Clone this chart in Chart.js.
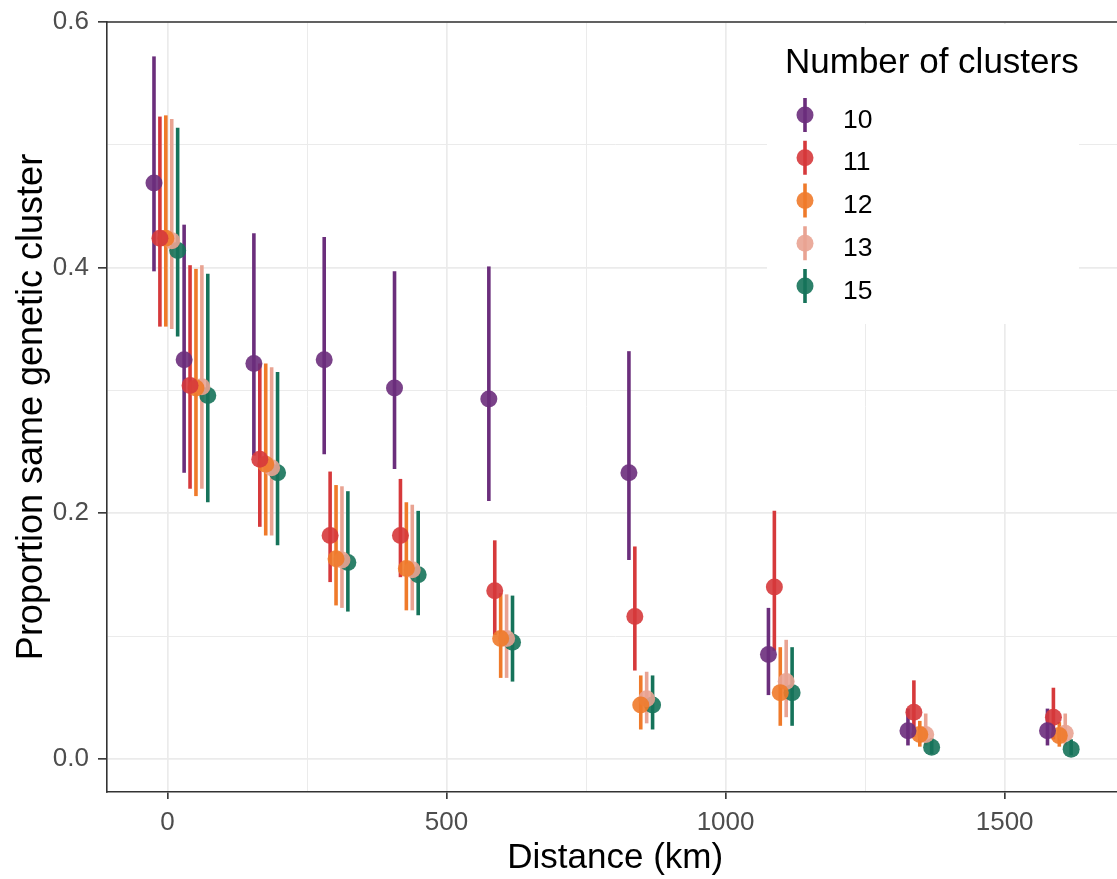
<!DOCTYPE html>
<html>
<head>
<meta charset="utf-8">
<script src="https://cdn.jsdelivr.net/npm/chart.js@4.4.1/dist/chart.umd.min.js"></script>
<style>
  html, body { margin:0; padding:0; background:#fff; overflow:hidden; }
  canvas { display:block; }
</style>
</head>
<body>
<canvas id="chart" width="1132" height="879"></canvas>
<script>
// ── data ─────────────────────────────────────────────────────────────────
const DISTANCE = [-3, 51, 176, 302, 428, 597, 848, 1098, 1348, 1598];   // km, bin centres
const CLUSTERS = ['10', '11', '12', '13', '15'];

const MEAN_10 = [0.469, 0.325, 0.322, 0.325, 0.302, 0.293, 0.233, 0.085, 0.023, 0.023];
const LO_10   = [0.397, 0.233, 0.247, 0.248, 0.236, 0.210, 0.162, 0.052, 0.011, 0.011];
const HI_10   = [0.572, 0.435, 0.428, 0.425, 0.397, 0.401, 0.332, 0.123, 0.041, 0.041];

const MEAN_11 = [0.424, 0.304, 0.244, 0.182, 0.182, 0.137, 0.116, 0.140, 0.038, 0.034];
const LO_11   = [0.352, 0.220, 0.189, 0.144, 0.148, 0.101, 0.072, 0.088, 0.018, 0.016];
const HI_11   = [0.523, 0.402, 0.322, 0.234, 0.228, 0.178, 0.173, 0.202, 0.064, 0.058];

const MEAN_12 = [0.424, 0.302, 0.240, 0.163, 0.155, 0.098, 0.044, 0.054, 0.020, 0.019];
const LO_12   = [0.352, 0.214, 0.182, 0.125, 0.121, 0.066, 0.024, 0.027, 0.010, 0.010];
const HI_12   = [0.524, 0.399, 0.322, 0.223, 0.209, 0.135, 0.068, 0.091, 0.031, 0.030];

const MEAN_13 = [0.422, 0.303, 0.237, 0.162, 0.154, 0.098, 0.049, 0.063, 0.020, 0.021];
const LO_13   = [0.350, 0.220, 0.182, 0.123, 0.121, 0.066, 0.029, 0.034, 0.011, 0.011];
const HI_13   = [0.521, 0.402, 0.319, 0.222, 0.207, 0.134, 0.071, 0.097, 0.037, 0.037];

const MEAN_15 = [0.414, 0.296, 0.233, 0.160, 0.150, 0.095, 0.044, 0.054, 0.0095, 0.008];
const LO_15   = [0.344, 0.209, 0.174, 0.120, 0.117, 0.063, 0.024, 0.027, 0.004, 0.003];
const HI_15   = [0.514, 0.395, 0.315, 0.218, 0.202, 0.133, 0.068, 0.091, 0.017, 0.016];

const X_TICKS = [0, 250, 500, 750, 1000, 1250, 1500];
const Y_TICKS = [0, 0.1, 0.2, 0.3, 0.4, 0.5, 0.6];

// ── styling ──────────────────────────────────────────────────────────────
const COLORS = ['#6b2e7c', '#d6393b', '#ef7a2a', '#e9a392', '#16735a'];
const MEANS = [MEAN_10, MEAN_11, MEAN_12, MEAN_13, MEAN_15];
const LOWS  = [LO_10, LO_11, LO_12, LO_13, LO_15];
const HIGHS = [HI_10, HI_11, HI_12, HI_13, HI_15];
const DODGE = 10.6;           // km between neighbouring clusters in a bin
const FONT = "'Liberation Sans', Arial, sans-serif";
const INK = '#333333';

const isMajor = (v, step) => Math.abs(v / step - Math.round(v / step)) < 1e-6;
const alpha = (hex, a) => hex + Math.round(a * 255).toString(16).padStart(2, '0');

// error bars go under every point, like geom_pointrange
const rangePlugin = {
  id: 'ranges',
  beforeDatasetsDraw(chart) {
    const { ctx, scales: { x, y } } = chart;
    ctx.save();
    ctx.lineWidth = 3.6;
    chart.data.datasets.forEach(ds => {
      ctx.strokeStyle = ds.lineColor;
      ds.data.forEach((p, j) => {
        const px = x.getPixelForValue(p.x);
        ctx.beginPath();
        ctx.moveTo(px, y.getPixelForValue(ds.lo[j]));
        ctx.lineTo(px, y.getPixelForValue(ds.hi[j]));
        ctx.stroke();
      });
    });
    ctx.restore();
  }
};

// panel top border + in-panel legend
const framePlugin = {
  id: 'frame',
  afterDraw(chart) {
    const { ctx, chartArea: a } = chart;
    ctx.save();
    // legend box
    ctx.fillStyle = '#fff';
    ctx.fillRect(767, a.top + 2, 312, 300);
    ctx.fillStyle = '#000';
    ctx.font = `35px ${FONT}`;
    ctx.textBaseline = 'alphabetic';
    ctx.textAlign = 'left';
    ctx.fillText('Number of clusters', 785, 73);
    chart.data.datasets.forEach((ds, i) => {
      const cy = 115 + i * 42.75;
      ctx.strokeStyle = ds.lineColor;
      ctx.lineWidth = 3.6;
      ctx.beginPath();
      ctx.moveTo(805, cy - 17);
      ctx.lineTo(805, cy + 17);
      ctx.stroke();
      ctx.fillStyle = ds.backgroundColor;
      ctx.beginPath();
      ctx.arc(805, cy, 8.5, 0, Math.PI * 2);
      ctx.fill();
      ctx.fillStyle = '#000';
      ctx.font = `26.5px ${FONT}`;
      ctx.fillText(ds.label, 843, cy + 12.5);
    });
    // border
    ctx.strokeStyle = INK;
    ctx.lineWidth = 1.6;
    ctx.beginPath();
    ctx.moveTo(a.left, a.top);
    ctx.lineTo(a.right, a.top);
    ctx.lineTo(a.right, a.bottom);
    ctx.stroke();
    ctx.restore();
  }
};

const datasets = CLUSTERS.map((label, i) => ({
  label,
  data: DISTANCE.map((d, j) => ({ x: d + (i - 2) * DODGE, y: MEANS[i][j] })),
  lo: LOWS[i],
  hi: HIGHS[i],
  lineColor: COLORS[i],
  backgroundColor: alpha(COLORS[i], 0.9),
  borderWidth: 0,
  pointRadius: 8.5,
  pointHoverRadius: 8.5
}));

const grid = (step) => ({
  color: '#ebebeb',
  lineWidth: c => isMajor(c.tick.value, step) ? 1.7 : 1.0,
  tickColor: c => isMajor(c.tick.value, step) ? INK : 'rgba(0,0,0,0)',
  tickWidth: 1.6,
  drawTicks: true
});

new Chart(document.getElementById('chart'), {
  type: 'scatter',
  data: { datasets },
  plugins: [rangePlugin, framePlugin],
  options: {
    responsive: false,
    animation: false,
    events: [],
    layout: { padding: { top: 22, left: 0, right: 0, bottom: 0 } },
    plugins: { legend: { display: false }, tooltip: { enabled: false } },
    scales: {
      x: {
        type: 'linear',
        min: -108.4,
        max: 1713,
        afterBuildTicks: sc => { sc.ticks = X_TICKS.map(v => ({ value: v })); },
        afterFit: sc => { sc.height = 87; sc.paddingLeft = 0; sc.paddingRight = 0; },
        grid: { ...grid(500), tickLength: 7 },
        border: { display: true, color: INK, width: 1.6 },
        ticks: {
          autoSkip: false, maxRotation: 0, padding: 8,
          color: '#4d4d4d', font: { family: FONT, size: 26 },
          callback: v => isMajor(v, 500) ? String(v) : ''
        },
        title: {
          display: true, text: 'Distance (km)', color: '#000',
          font: { family: FONT, size: 35 }, padding: { top: 0, bottom: 0 }
        }
      },
      y: {
        type: 'linear',
        min: -0.0269,
        max: 0.6,
        afterBuildTicks: sc => { sc.ticks = Y_TICKS.map(v => ({ value: v })); },
        afterFit: sc => { sc.width = 107; sc.paddingTop = 0; sc.paddingBottom = 0; },
        grid: { ...grid(0.2), tickLength: 9 },
        border: { display: true, color: INK, width: 1.6 },
        ticks: {
          autoSkip: false, padding: 9,
          color: '#4d4d4d', font: { family: FONT, size: 26 },
          callback: v => isMajor(v, 0.2) ? v.toFixed(1) : ''
        },
        title: {
          display: true, text: 'Proportion same genetic cluster', color: '#000',
          font: { family: FONT, size: 36 }, padding: { top: 10, bottom: 0 }
        }
      }
    }
  }
});
</script>
</body>
</html>
